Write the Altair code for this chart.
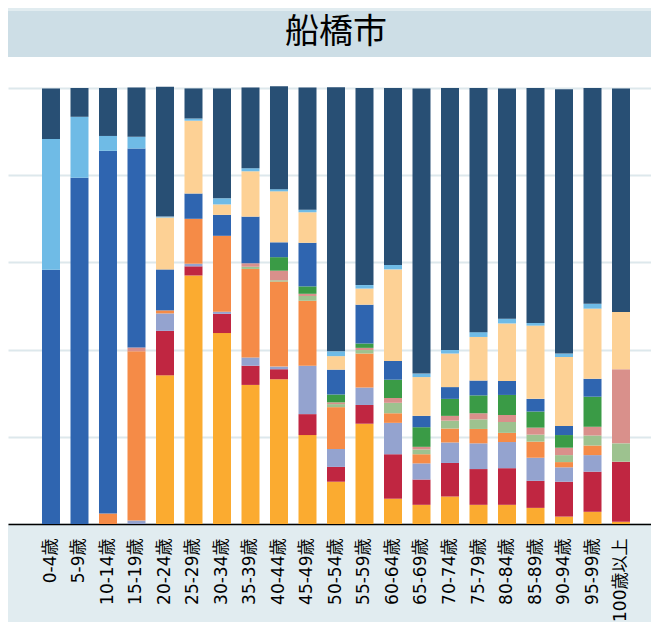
import altair as alt
import pandas as pd

title_text = "船橋市"

ages = ["0-4歳", "5-9歳", "10-14歳", "15-19歳", "20-24歳", "25-29歳", "30-34歳",
        "35-39歳", "40-44歳", "45-49歳", "50-54歳", "55-59歳", "60-64歳", "65-69歳",
        "70-74歳", "75-79歳", "80-84歳", "85-89歳", "90-94歳", "95-99歳", "100歳以上"]

# series, bottom of the stack first (percent of each age group)
names = ["類型01", "類型02", "類型03", "類型04", "類型05", "類型06",
         "類型07", "類型08", "類型09", "類型10", "類型11"]

s01 = [0, 0, 0, 0, 34.1, 57.0, 43.8, 31.9, 33.2, 20.4, 9.7, 23.0, 5.8, 4.4, 6.3, 4.4, 4.4, 3.7, 1.7, 2.8, 0.5]
s02 = [0, 0, 0, 0, 10.2, 2.1, 4.4, 4.4, 2.3, 4.8, 3.4, 4.3, 10.2, 5.8, 7.7, 8.2, 8.4, 6.2, 8.0, 9.2, 13.8]
s03 = [0, 0, 0, 0.8, 4.0, 0.6, 0.5, 1.9, 0.6, 11.1, 4.1, 4.0, 7.2, 3.7, 4.7, 5.9, 6.0, 5.3, 3.3, 3.8, 0]
s04 = [0, 0, 2.4, 38.8, 0.7, 10.3, 17.4, 20.3, 19.5, 14.9, 9.6, 7.8, 2.2, 2.1, 3.2, 3.3, 2.1, 3.7, 1.2, 2.2, 0]
s05 = [0, 0, 0, 0, 0, 0, 0, 0.5, 0.3, 1.1, 0.7, 0.8, 2.4, 1.1, 1.8, 2.2, 2.5, 1.6, 1.6, 2.3, 4.2]
s06 = [0, 0, 0, 0.9, 0, 0, 0, 0.8, 2.2, 0.5, 0.4, 0.5, 1.1, 0.6, 1.1, 1.4, 1.6, 1.6, 1.7, 2.0, 17.0]
s07 = [0, 0, 0, 0, 0, 0, 0, 0, 3.1, 1.7, 1.8, 1.0, 4.2, 4.5, 3.9, 4.1, 4.6, 3.7, 2.9, 6.9, 0]
s08 = [58.3, 79.4, 83.2, 45.6, 9.4, 5.8, 4.8, 10.7, 3.4, 10.0, 5.7, 8.9, 4.3, 2.6, 2.7, 3.4, 3.2, 2.9, 2.1, 4.1, 0]
s09 = [0, 0, 0, 0, 11.9, 16.7, 2.4, 10.4, 11.7, 7.0, 3.1, 3.7, 21.0, 8.9, 7.7, 10.0, 13.2, 16.8, 15.8, 16.1, 13.1]
s10 = [30.0, 14.0, 3.4, 2.7, 0.2, 0.5, 1.4, 0.7, 0.5, 0.6, 1.1, 0.8, 1.0, 0.8, 0.8, 1.1, 1.1, 0.6, 0.8, 1.1, 0]
s11 = [11.6, 6.6, 11.0, 11.3, 29.8, 6.9, 25.2, 18.5, 23.6, 28.0, 60.6, 45.2, 40.6, 65.4, 60.1, 56.0, 52.8, 53.9, 60.6, 49.5, 51.3]

series = [s01, s02, s03, s04, s05, s06, s07, s08, s09, s10, s11]

colors = ["#fbab30", "#c02641", "#94a3cf", "#f58b47", "#9dc28f", "#d9908b",
          "#3a9b46", "#2f65b0", "#fdd195", "#6fbbe6", "#284f74"]

rows = []
for k, (nm, vals) in enumerate(zip(names, series)):
    for a, v in zip(ages, vals):
        rows.append({"age": a, "s": nm, "k": k, "v": v})
df = pd.DataFrame(rows)

W = 643

bars = alt.Chart(df).mark_bar(size=18).encode(
    x=alt.X("age:N", sort=ages,
            scale=alt.Scale(paddingInner=0.439, paddingOuter=1, align=0.614),
            axis=alt.Axis(title=None, labelAngle=270, labelAlign="right",
                          labelBaseline="middle", labelFontSize=17,
                          labelFont="DejaVu Sans, Noto Sans CJK JP", labelColor="black",
                          labelPadding=14, ticks=False, domainColor="black",
                          domainWidth=1.5, grid=False, labelOverlap=False)),
    y=alt.Y("v:Q", stack="zero",
            scale=alt.Scale(domain=[0, 107.11], nice=False, zero=True),
            axis=alt.Axis(values=[0, 20, 40, 60, 80, 100], labels=False, ticks=False,
                          domain=False, title=None, grid=True, gridColor="#dde8ec",
                          gridWidth=2, minExtent=0, maxExtent=0)),
    color=alt.Color("s:N", scale=alt.Scale(domain=names, range=colors), legend=None),
    order=alt.Order("k:Q"),
).properties(width=W, height=467,
             view=alt.ViewBackground(fill="white", stroke=None))

head = alt.Chart(pd.DataFrame({"t": [title_text]})).mark_text(
    fontSize=34, font="Noto Sans CJK JP", color="black", baseline="middle", align="center"
).encode(
    text="t:N", x=alt.value(328), y=alt.value(22)
).properties(width=W, height=46,
             view=alt.ViewBackground(fill="#cddee6", stroke=None))

chart = alt.vconcat(head, bars, spacing=0).properties(
    padding={"left": 0, "top": 3, "right": 0, "bottom": 0},
    background="#e1ecf0",
).configure_view(stroke=None)

chart.save("out.html", embed_options={"renderer": "svg", "actions": False})
